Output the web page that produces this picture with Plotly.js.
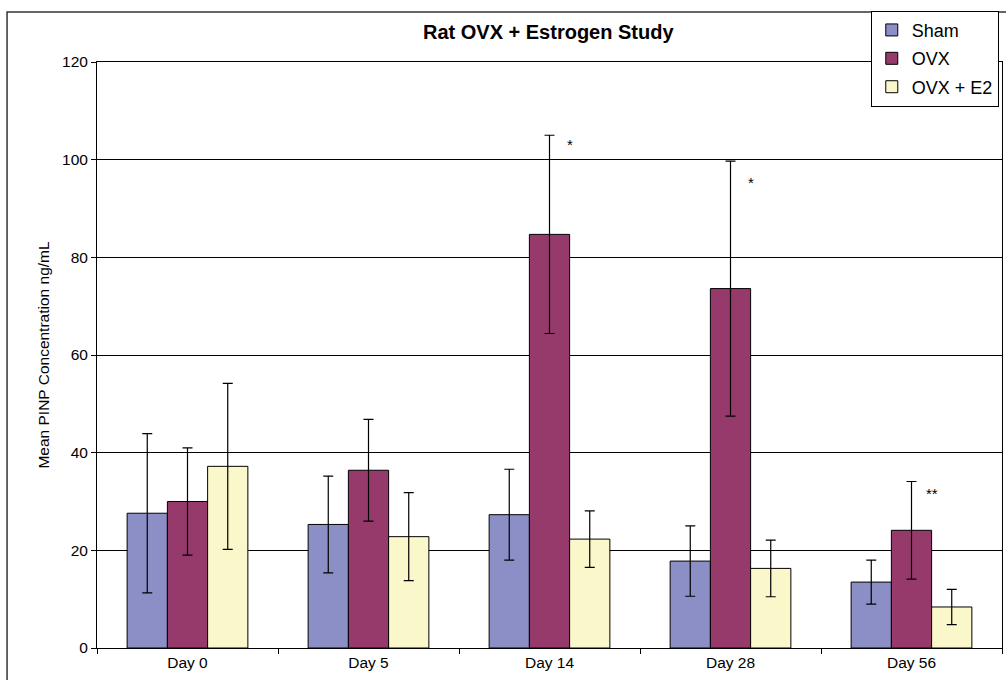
<!DOCTYPE html>
<html>
<head>
<meta charset="utf-8">
<script src="https://cdn.plot.ly/plotly-3.0.1.min.js"></script>
<style>html,body{margin:0;padding:0;background:#fff;}#chart{width:1006px;height:680px;}</style>
</head>
<body>
<div id="chart"></div>
<script>
const categories = ["Day 0", "Day 5", "Day 14", "Day 28", "Day 56"];
const seriesNames = ["Sham", "OVX", "OVX + E2"];
const shamValues = [27.6, 25.3, 27.3, 17.8, 13.5];
const shamErrors = [16.3, 9.9, 9.3, 7.2, 4.5];
const ovxValues = [30.0, 36.4, 84.7, 73.6, 24.1];
const ovxErrors = [11.0, 10.4, 20.3, 26.1, 10.0];
const e2Values = [37.2, 22.8, 22.3, 16.3, 8.4];
const e2Errors = [17.0, 9.0, 5.8, 5.8, 3.6];
const starLabels = ["*", "*", "**"];
const starCategories = ["Day 14", "Day 28", "Day 56"];
const starY = [103.1, 95.4, 31.6];

const colors = ["#8B8FC6", "#963A6C", "#FAF8CA"];
const vals = [shamValues, ovxValues, e2Values];
const errs = [shamErrors, ovxErrors, e2Errors];

const traces = seriesNames.map((name, i) => ({
  type: "bar",
  name: name,
  x: categories,
  y: vals[i],
  legendgroup: "g" + i,
  marker: {color: colors[i], line: {color: "#000", width: 1}},
  error_y: {type: "data", array: errs[i], visible: true, color: "#000", thickness: 1.2, width: 5}
}));

const font = "Liberation Sans, Arial, sans-serif";
const layout = {
  width: 1006, height: 680,
  margin: {l: 97, r: 4, t: 62, b: 32, pad: 0},
  paper_bgcolor: "#fff", plot_bgcolor: "#fff",
  font: {family: font, color: "#000", size: 15.5},
  barmode: "group", bargap: 0.333, bargroupgap: 0,
  title: {text: "<b>Rat OVX + Estrogen Study</b>", font: {size: 20, family: font, color: "#000"},
          x: 0.545, xanchor: "center", y: 0.953, yanchor: "middle"},
  xaxis: {type: "category", showline: true, linecolor: "#000", linewidth: 1, mirror: true,
          ticks: "outside", tickson: "boundaries", ticklen: 5, tickcolor: "#000",
          tickfont: {size: 15.5, family: font}, showgrid: false, zeroline: false, fixedrange: true},
  yaxis: {range: [0, 120], dtick: 20, showline: true, linecolor: "#000", linewidth: 1, mirror: true,
          ticks: "outside", ticklen: 5, tickcolor: "#000", showgrid: true, gridcolor: "#000", gridwidth: 1,
          zeroline: false, tickfont: {size: 15.5, family: font},
          title: {text: "Mean PINP Concentration ng/mL", font: {size: 15.5, family: font}, standoff: 8}},
  legend: {x: 0.855, y: 1.0875, xanchor: "left", yanchor: "top", bgcolor: "#fff",
           bordercolor: "#000", borderwidth: 1, font: {size: 18, family: font},
           traceorder: "grouped", tracegroupgap: 2, itemwidth: 30},
  annotations: starLabels.map((t, i) => ({
    x: starCategories[i], y: starY[i], xref: "x", yref: "y", text: t, showarrow: false,
    xshift: 20, font: {size: 15, family: font, color: "#000"}
  })),
  shapes: [
    {type: "rect", xref: "paper", yref: "paper", x0: -0.0994, x1: 1.02, y0: -0.12, y1: 1.0853,
     line: {color: "#333", width: 1.5}, fillcolor: "rgba(0,0,0,0)", layer: "below"}
  ]
};

Plotly.newPlot("chart", traces, layout, {displayModeBar: false, staticPlot: true});
</script>
</body>
</html>
